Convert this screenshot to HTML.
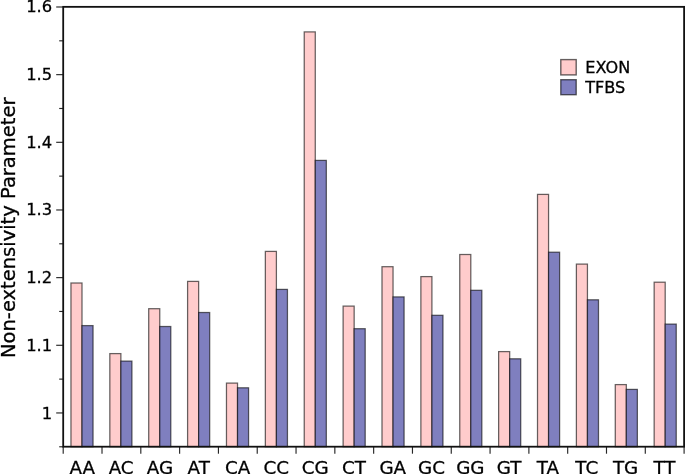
<!DOCTYPE html>
<html lang="en"><head><meta charset="utf-8"><title>Non-extensivity Parameter</title>
<style>html,body{margin:0;padding:0;background:#fff;overflow:hidden}svg{display:block}text{font-family:"DejaVu Sans","Liberation Sans",sans-serif;fill:#000;stroke:#000;stroke-width:0.3px}</style></head><body>
<svg width="685" height="474" viewBox="0 0 685 474">
<rect x="0" y="0" width="685" height="474" fill="#fff"/>
<g stroke="rgba(0,0,0,0.6)" stroke-width="1.25">
<rect x="70.95" y="283.00" width="11.05" height="163.70" fill="#ffcccc"/>
<rect x="82.00" y="325.60" width="11.05" height="121.10" fill="#7f7fbf"/>
<rect x="109.83" y="353.60" width="11.05" height="93.10" fill="#ffcccc"/>
<rect x="120.88" y="361.10" width="11.05" height="85.60" fill="#7f7fbf"/>
<rect x="148.71" y="308.70" width="11.05" height="138.00" fill="#ffcccc"/>
<rect x="159.76" y="326.50" width="11.05" height="120.20" fill="#7f7fbf"/>
<rect x="187.59" y="281.40" width="11.05" height="165.30" fill="#ffcccc"/>
<rect x="198.64" y="312.50" width="11.05" height="134.20" fill="#7f7fbf"/>
<rect x="226.47" y="383.10" width="11.05" height="63.60" fill="#ffcccc"/>
<rect x="237.52" y="387.80" width="11.05" height="58.90" fill="#7f7fbf"/>
<rect x="265.35" y="251.40" width="11.05" height="195.30" fill="#ffcccc"/>
<rect x="276.40" y="289.40" width="11.05" height="157.30" fill="#7f7fbf"/>
<rect x="304.23" y="31.90" width="11.05" height="414.80" fill="#ffcccc"/>
<rect x="315.28" y="160.40" width="11.05" height="286.30" fill="#7f7fbf"/>
<rect x="343.11" y="306.10" width="11.05" height="140.60" fill="#ffcccc"/>
<rect x="354.16" y="328.70" width="11.05" height="118.00" fill="#7f7fbf"/>
<rect x="381.99" y="266.70" width="11.05" height="180.00" fill="#ffcccc"/>
<rect x="393.04" y="296.90" width="11.05" height="149.80" fill="#7f7fbf"/>
<rect x="420.87" y="276.60" width="11.05" height="170.10" fill="#ffcccc"/>
<rect x="431.92" y="315.30" width="11.05" height="131.40" fill="#7f7fbf"/>
<rect x="459.75" y="254.50" width="11.05" height="192.20" fill="#ffcccc"/>
<rect x="470.80" y="290.30" width="11.05" height="156.40" fill="#7f7fbf"/>
<rect x="498.63" y="351.60" width="11.05" height="95.10" fill="#ffcccc"/>
<rect x="509.68" y="358.80" width="11.05" height="87.90" fill="#7f7fbf"/>
<rect x="537.51" y="194.40" width="11.05" height="252.30" fill="#ffcccc"/>
<rect x="548.56" y="252.20" width="11.05" height="194.50" fill="#7f7fbf"/>
<rect x="576.39" y="264.10" width="11.05" height="182.60" fill="#ffcccc"/>
<rect x="587.44" y="299.80" width="11.05" height="146.90" fill="#7f7fbf"/>
<rect x="615.27" y="384.60" width="11.05" height="62.10" fill="#ffcccc"/>
<rect x="626.32" y="389.40" width="11.05" height="57.30" fill="#7f7fbf"/>
<rect x="654.15" y="282.20" width="11.05" height="164.50" fill="#ffcccc"/>
<rect x="665.20" y="324.10" width="11.05" height="122.60" fill="#7f7fbf"/>
</g>
<g stroke="#000" stroke-width="1.15" stroke-opacity="0.85">
<line x1="63.20" y1="446.70" x2="63.20" y2="453.70"/>
<line x1="102.01" y1="446.70" x2="102.01" y2="453.70"/>
<line x1="140.81" y1="446.70" x2="140.81" y2="453.70"/>
<line x1="179.62" y1="446.70" x2="179.62" y2="453.70"/>
<line x1="218.43" y1="446.70" x2="218.43" y2="453.70"/>
<line x1="257.23" y1="446.70" x2="257.23" y2="453.70"/>
<line x1="296.04" y1="446.70" x2="296.04" y2="453.70"/>
<line x1="334.84" y1="446.70" x2="334.84" y2="453.70"/>
<line x1="373.65" y1="446.70" x2="373.65" y2="453.70"/>
<line x1="412.46" y1="446.70" x2="412.46" y2="453.70"/>
<line x1="451.26" y1="446.70" x2="451.26" y2="453.70"/>
<line x1="490.07" y1="446.70" x2="490.07" y2="453.70"/>
<line x1="528.88" y1="446.70" x2="528.88" y2="453.70"/>
<line x1="567.68" y1="446.70" x2="567.68" y2="453.70"/>
<line x1="606.49" y1="446.70" x2="606.49" y2="453.70"/>
<line x1="645.29" y1="446.70" x2="645.29" y2="453.70"/>
<line x1="684.10" y1="446.70" x2="684.10" y2="453.70"/>
<line x1="59.20" y1="446.78" x2="63.20" y2="446.78"/>
<line x1="56.20" y1="412.95" x2="63.20" y2="412.95"/>
<line x1="59.20" y1="379.12" x2="63.20" y2="379.12"/>
<line x1="56.20" y1="345.29" x2="63.20" y2="345.29"/>
<line x1="59.20" y1="311.46" x2="63.20" y2="311.46"/>
<line x1="56.20" y1="277.63" x2="63.20" y2="277.63"/>
<line x1="59.20" y1="243.80" x2="63.20" y2="243.80"/>
<line x1="56.20" y1="209.97" x2="63.20" y2="209.97"/>
<line x1="59.20" y1="176.14" x2="63.20" y2="176.14"/>
<line x1="56.20" y1="142.31" x2="63.20" y2="142.31"/>
<line x1="59.20" y1="108.48" x2="63.20" y2="108.48"/>
<line x1="56.20" y1="74.65" x2="63.20" y2="74.65"/>
<line x1="59.20" y1="40.82" x2="63.20" y2="40.82"/>
<line x1="56.20" y1="6.99" x2="63.20" y2="6.99"/>
</g>
<rect x="63.20" y="6.85" width="620.90" height="439.85" fill="none" stroke="#111" stroke-width="1.8"/>
<g font-size="16.6" text-anchor="end">
<text transform="translate(52.2 418.90) scale(0.985 1)">1</text>
<text transform="translate(52.2 350.90) scale(0.985 1)">1.1</text>
<text transform="translate(52.2 282.90) scale(0.985 1)">1.2</text>
<text transform="translate(52.2 214.90) scale(0.985 1)">1.3</text>
<text transform="translate(52.2 147.90) scale(0.985 1)">1.4</text>
<text transform="translate(52.2 79.90) scale(0.985 1)">1.5</text>
<text transform="translate(52.2 11.90) scale(0.985 1)">1.6</text>
</g>
<g font-size="18.3" text-anchor="middle">
<text x="82.30" y="474.35">AA</text>
<text x="121.11" y="474.35">AC</text>
<text x="159.92" y="474.35">AG</text>
<text x="198.72" y="474.35">AT</text>
<text x="237.53" y="474.35">CA</text>
<text x="276.33" y="474.35">CC</text>
<text x="315.14" y="474.35">CG</text>
<text x="353.95" y="474.35">CT</text>
<text x="392.75" y="474.35">GA</text>
<text x="431.56" y="474.35">GC</text>
<text x="470.37" y="474.35">GG</text>
<text x="509.17" y="474.35">GT</text>
<text x="547.98" y="474.35">TA</text>
<text x="586.78" y="474.35">TC</text>
<text x="625.59" y="474.35">TG</text>
<text x="664.40" y="474.35">TT</text>
</g>
<text font-size="19.5" text-anchor="middle" transform="translate(15.4 227.8) rotate(-90)">Non-extensivity Parameter</text>
<g stroke="rgba(0,0,0,0.6)" stroke-width="1.4">
<rect x="560.8" y="59.6" width="15.4" height="15.3" fill="#ffcccc"/>
<rect x="560.8" y="79.7" width="15.4" height="15.0" fill="#7f7fbf"/>
</g>
<g font-size="16.1">
<text transform="translate(585.3 72.55)">EXON</text>
<text transform="translate(585.2 92.65)">TFBS</text>
</g>
</svg></body></html>
